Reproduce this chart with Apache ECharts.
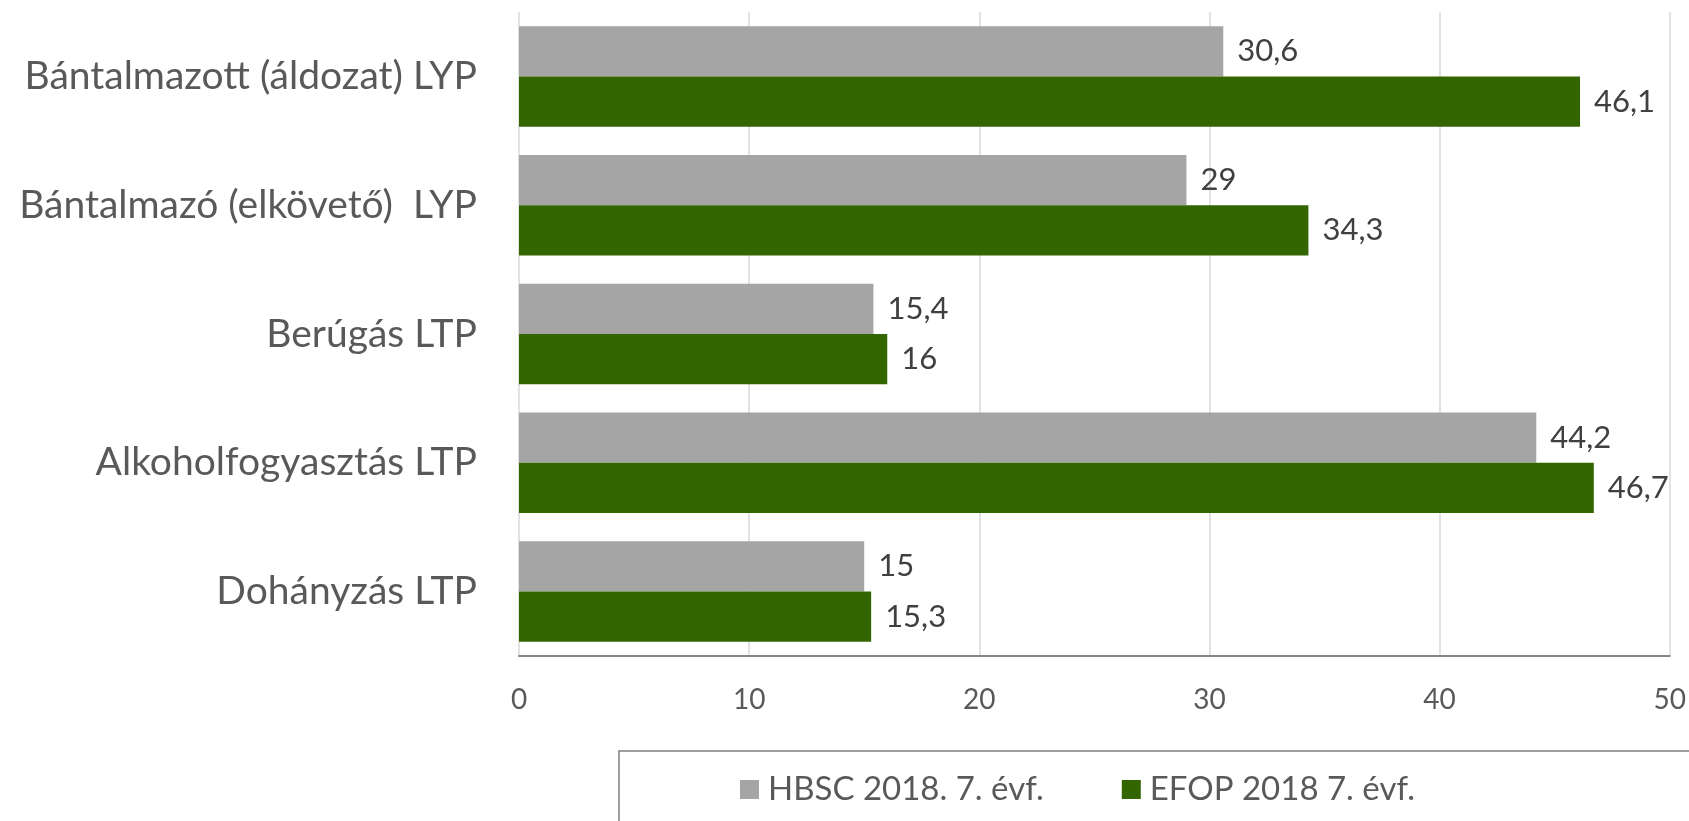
<!DOCTYPE html>
<html>
<head>
<meta charset="utf-8">
<script src="https://cdn.jsdelivr.net/npm/echarts@6/dist/echarts.min.js"></script>
<style>
  html, body { margin: 0; padding: 0; background: #fff; }
  #chart { width: 1689px; height: 821px; }
</style>
</head>
<body>
<div id="chart"></div>
<script>
var categories = ['Bántalmazott (áldozat) LYP', 'Bántalmazó (elkövető)  LYP', 'Berúgás LTP', 'Alkoholfogyasztás LTP', 'Dohányzás LTP'];
var hbscValues = [30.6, 29, 15.4, 44.2, 15];
var efopValues = [46.1, 34.3, 16, 46.7, 15.3];
var seriesNames = ['HBSC 2018. 7. évf.', 'EFOP 2018 7. évf.'];
var xTicks = [0, 10, 20, 30, 40, 50];

var fontFam = 'Lato, "Open Sans", sans-serif';

function fmt(p) {
    return String(p.value).replace('.', ',');
}

var myChart = echarts.init(document.getElementById('chart'));
var option = {
    animation: false,
    backgroundColor: '#ffffff',
    textStyle: { fontFamily: fontFam },
    grid: { left: 519, right: 19, top: 12, bottom: 165, containLabel: false },
    legend: {
        data: seriesNames,
        left: 735,
        top: 768,
        itemWidth: 19,
        itemHeight: 19,
        itemGap: 78,
        icon: 'rect',
        textStyle: { fontFamily: fontFam, fontSize: 33, color: '#595959', padding: [0, 0, 0, 4] }
    },
    graphic: [{
        type: 'rect',
        shape: { x: 619, y: 751, width: 1200, height: 200 },
        style: { fill: 'none', stroke: '#7f7f7f', lineWidth: 1.5 },
        silent: true
    }],
    xAxis: {
        type: 'value',
        min: xTicks[0],
        max: xTicks[xTicks.length - 1],
        interval: 10,
        axisLine: { show: true, lineStyle: { color: '#868686', width: 2 } },
        axisTick: { show: false },
        splitLine: { show: true, lineStyle: { color: '#d9d9d9', width: 1.5 } },
        axisLabel: { fontSize: 28, color: '#595959', margin: 30, fontFamily: fontFam }
    },
    yAxis: {
        type: 'category',
        data: categories,
        inverse: true,
        axisLine: { show: false },
        axisTick: { show: false },
        splitLine: { show: false },
        axisLabel: { fontSize: 39, color: '#595959', margin: 42, fontFamily: fontFam }
    },
    series: [{
        name: seriesNames[0],
        type: 'bar',
        data: hbscValues,
        barGap: '0%',
        barCategoryGap: '22%',
        itemStyle: { color: '#a5a5a5' },
        label: { show: true, position: 'right', distance: 14, fontSize: 31, color: '#404040', formatter: fmt, fontFamily: fontFam }
    }, {
        name: seriesNames[1],
        type: 'bar',
        data: efopValues,
        barGap: '0%',
        barCategoryGap: '22%',
        itemStyle: { color: '#336600' },
        label: { show: true, position: 'right', distance: 14, fontSize: 31, color: '#404040', formatter: fmt, fontFamily: fontFam }
    }]
};
myChart.setOption(option);
</script>
</body>
</html>
